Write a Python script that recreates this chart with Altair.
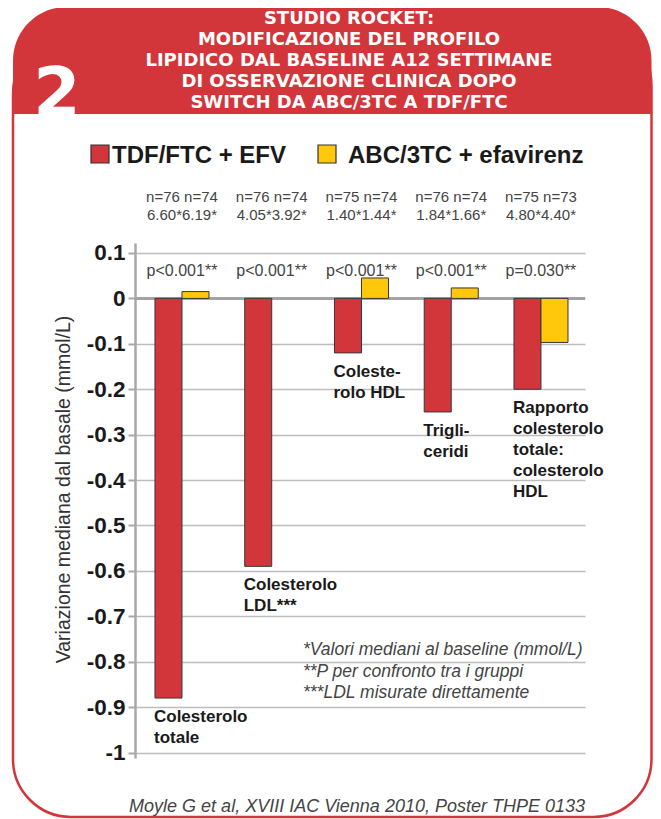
import altair as alt
import pandas as pd

# ---------------- data ----------------
categories = ["Colesterolo totale", "Colesterolo LDL***", "Colesterolo HDL",
              "Trigliceridi", "Rapporto colesterolo totale: colesterolo HDL"]
cat_labels = ["Colesterolo\ntotale", "Colesterolo\nLDL***", "Coleste-\nrolo HDL",
              "Trigli-\nceridi", "Rapporto\ncolesterolo\ntotale:\ncolesterolo\nHDL"]
series = ["TDF/FTC + EFV", "ABC/3TC + efavirenz"]
tdf_values = [-0.88, -0.59, -0.12, -0.25, -0.20]
abc_values = [0.015, 0.0, 0.045, 0.023, -0.097]
n_tdf = [76, 76, 75, 76, 75]
n_abc = [74, 74, 74, 74, 73]
base_tdf = ["6.60", "4.05", "1.40", "1.84", "4.80"]
base_abc = ["6.19", "3.92", "1.44", "1.66", "4.40"]
p_values = ["p<0.001**", "p<0.001**", "p<0.001**", "p<0.001**", "p=0.030**"]
y_ticks = [0.1, 0, -0.1, -0.2, -0.3, -0.4, -0.5, -0.6, -0.7, -0.8, -0.9, -1]

title_lines = ["STUDIO ROCKET:", "MODIFICAZIONE DEL PROFILO",
               "LIPIDICO DAL BASELINE A12 SETTIMANE",
               "DI OSSERVAZIONE CLINICA DOPO", "SWITCH DA ABC/3TC A TDF/FTC"]
footnotes = ["*Valori mediani al baseline (mmol/L)", "**P per confronto tra i gruppi",
             "***LDL misurate direttamente"]
source = "Moyle G et al, XVIII IAC Vienna 2010, Poster THPE 0133"
y_title = "Variazione mediana dal basale (mmol/L)"

RED = "#d3363a"
YELLOW = "#ffc80b"
FONT = "Liberation Sans"

rows = []
for i, c in enumerate(categories):
    rows.append({"cat": c, "series": series[0], "value": tdf_values[i]})
    rows.append({"cat": c, "series": series[1], "value": abc_values[i]})
bars_df = pd.DataFrame(rows)

info_df = pd.DataFrame({
    "cat": categories,
    "ntext": [f"n={a} n={b}\n{x}*{y}*" for a, b, x, y in zip(n_tdf, n_abc, base_tdf, base_abc)],
    "p": p_values,
    "label": cat_labels,
    "value": tdf_values,
})

x_scale = alt.Scale(domain=categories, paddingInner=0.398, paddingOuter=0.206, align=0.54)
x_enc = alt.X("cat:N", sort=categories, scale=x_scale, axis=None)
y_scale = alt.Scale(domain=[-1.012, 0.122], nice=False, zero=False)

one = pd.DataFrame({"a": [0]})

# ---------------- frame / header ----------------
header_bg = alt.Chart(one).mark_rect(
    fill=RED, cornerRadiusTopLeft=88, cornerRadiusTopRight=80
).encode(x=alt.value(-122), x2=alt.value(516.5), y=alt.value(-236), y2=alt.value(-129))

frame = alt.Chart(one).mark_rect(
    fillOpacity=0, stroke=RED, strokeWidth=2.5,
    cornerRadiusTopLeft=88, cornerRadiusTopRight=80,
    cornerRadiusBottomLeft=58, cornerRadiusBottomRight=58
).encode(x=alt.value(-122), x2=alt.value(516.5), y=alt.value(-236), y2=alt.value(574))

header_text = alt.Chart(one).mark_text(
    text="\n".join(title_lines), lineBreak="\n", lineHeight=21,
    font="DejaVu Sans", fontWeight="bold", fontSize=18, color="white",
    align="center", baseline="middle"
).encode(x=alt.value(214), y=alt.value(-224))

big_two = alt.Chart(one).mark_text(
    text="2", font="DejaVu Sans", fontWeight="bold", fontSize=68, color="white",
    align="center", baseline="alphabetic"
).encode(x=alt.value(-78), y=alt.value(-127))

# ---------------- legend (manual) ----------------
legend_layers = []
leg_sq_x = [-44, 183]
leg_tx_x = [-23, 213]
for s, col, sx, tx in zip(series, [RED, YELLOW], leg_sq_x, leg_tx_x):
    legend_layers.append(
        alt.Chart(one).mark_rect(fill=col, stroke="#333333", strokeWidth=1.2)
        .encode(x=alt.value(sx), x2=alt.value(sx + 18), y=alt.value(-98), y2=alt.value(-80))
    )
    legend_layers.append(
        alt.Chart(one).mark_text(
            text=s, font=FONT, fontWeight="bold", fontSize=24, color="#1a1a1a",
            align="left", baseline="alphabetic"
        ).encode(x=alt.value(tx), y=alt.value(-80))
    )

# ---------------- plot ----------------
zero_rule = alt.Chart(pd.DataFrame({"y": [0]})).mark_rule(
    color="#a3a3a3", strokeWidth=3
).encode(y=alt.Y("y:Q", scale=y_scale))

bars = alt.Chart(bars_df).mark_bar(stroke="#383838", strokeWidth=1).encode(
    x=x_enc,
    xOffset=alt.XOffset("series:N", sort=series),
    y=alt.Y("value:Q", scale=y_scale, axis=alt.Axis(
        values=y_ticks,
        labelExpr="datum.value == 0 ? '0' : datum.value == -1 ? '-1' : (datum.value < 0 ? '-' : '') + format(abs(datum.value), '.1f')",
        labelFont=FONT, labelFontWeight="bold", labelFontSize=22.5, labelColor="#1a1a1a",
        labelPadding=3, tickSize=7, tickColor="#a8a8a8", tickWidth=2,
        domainColor="#a8a8a8", domainWidth=2.5,
        grid=True, gridColor="#bdbdbd", gridWidth=1.5,
        title=y_title, titleFont=FONT, titleFontSize=19.5, titleFontWeight="normal",
        titleColor="#333333", titleX=-72, titleY=246, titleAngle=270,
        titleAlign="center", titleBaseline="middle",
    )),
    y2=alt.datum(0),
    color=alt.Color("series:N", scale=alt.Scale(domain=series, range=[RED, YELLOW]), legend=None),
    strokeOpacity=alt.condition(alt.datum.value == 0, alt.value(0), alt.value(1)),
)

n_text = alt.Chart(info_df).mark_text(
    font=FONT, fontSize=15, color="#444444", lineBreak="\n", lineHeight=18,
    align="center", baseline="alphabetic"
).encode(x=x_enc, y=alt.value(-41), text="ntext:N")

p_text = alt.Chart(info_df).mark_text(
    font=FONT, fontSize=16, color="#444444", align="center", baseline="alphabetic"
).encode(x=x_enc, y=alt.value(33), text="p:N")

cat_text = alt.Chart(info_df).mark_text(
    font=FONT, fontSize=17, fontWeight="bold", color="#1a1a1a", lineBreak="\n",
    lineHeight=21, align="left", baseline="alphabetic", dx=-28, dy=24
).encode(x=x_enc, y=alt.Y("value:Q", scale=y_scale), text="label:N")

foot_text = alt.Chart(one).mark_text(
    text="\n".join(footnotes), lineBreak="\n", lineHeight=21.7,
    font=FONT, fontSize=17.5, fontStyle="italic", color="#444444",
    align="left", baseline="alphabetic"
).encode(x=alt.value(168), y=alt.value(412))

source_text = alt.Chart(one).mark_text(
    text=source, font=FONT, fontSize=18, fontStyle="italic", color="#444444",
    align="right", baseline="alphabetic"
).encode(x=alt.value(450), y=alt.value(569))

chart = alt.layer(
    header_bg, frame, header_text, big_two, *legend_layers,
    zero_rule, bars, n_text, p_text, cat_text, foot_text, source_text
).properties(
    width=450, height=515,
    padding={"left": 127, "top": 235, "right": 68, "bottom": 61},
    autosize=alt.AutoSizeParams(type="none"),
    background="white",
).configure_view(stroke=None)

chart.save("out.html", embed_options={"renderer": "svg", "actions": False})
